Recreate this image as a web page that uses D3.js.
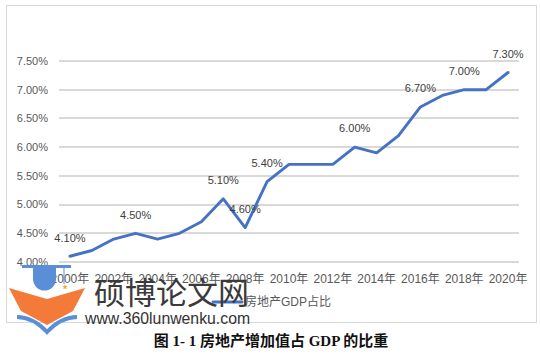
<!DOCTYPE html>
<html><head><meta charset="utf-8">
<script src="https://cdn.jsdelivr.net/npm/d3@7"></script>
<style>
html,body{margin:0;padding:0;background:#fff;}
svg{display:block;}
</style></head>
<body>
<svg id="c" width="540" height="356"></svg>
<script>
const years = d3.range(2000, 2021).map(String);
const share = [4.1, 4.2, 4.4, 4.5, 4.4, 4.5, 4.7, 5.1, 4.6, 5.4, 5.7, 5.7, 5.7, 6.0, 5.9, 6.2, 6.7, 6.9, 7.0, 7.0, 7.3];
const labelledYears = ["2000","2003","2007","2008","2009","2013","2016","2018","2020"];
const yTicks = [4.0, 4.5, 5.0, 5.5, 6.0, 6.5, 7.0, 7.5];
const xTickYears = ["2000","2002","2004","2006","2008","2010","2012","2014","2016","2018","2020"];
const seriesName = "房地产GDP占比";
const caption = "图 1- 1 房地产增加值占 GDP 的比重";
const wmTitle = "硕博论文网";
const wmUrl = "www.360lunwenku.com";

const svg = d3.select("#c");
const FONT = "'Liberation Sans','Noto Sans CJK SC',sans-serif";
const GRAY = "#595959";

// chart box
svg.append("rect").attr("x",6.5).attr("y",5.5).attr("width",530).attr("height",317)
  .attr("fill","#fff").attr("stroke","#d9d9d9").attr("stroke-width",1);

const x = d3.scaleBand().domain(years).range([59,519]).paddingInner(0).paddingOuter(0);
const cx = d => x(d) + x.bandwidth()/2;
const y = d3.scaleLinear().domain([4.0,7.5]).range([262,61]);

// gridlines
svg.append("g").selectAll("line").data(yTicks).join("line")
  .attr("x1",59).attr("x2",519)
  .attr("y1",d=>Math.round(y(d))).attr("y2",d=>Math.round(y(d)))
  .attr("stroke","#d9d9d9").attr("stroke-width",2);

// y labels
svg.append("g").selectAll("text").data(yTicks).join("text")
  .attr("x",48).attr("y",d=>y(d)).attr("dy","0.35em")
  .attr("text-anchor","end").attr("font-family",FONT).attr("font-size",11)
  .attr("fill",GRAY).text(d=>d.toFixed(2)+"%");

// x labels
svg.append("g").selectAll("text").data(xTickYears).join("text")
  .attr("x",d=>cx(d)).attr("y",279).attr("dy","0.35em")
  .attr("text-anchor","middle").attr("font-family",FONT).attr("font-size",12)
  .attr("fill",GRAY).text(d=>d+"年");

// line
const data = years.map((yr,i)=>({yr, v:share[i]}));
svg.append("path").datum(data)
  .attr("fill","none").attr("stroke","#4472c4").attr("stroke-width",2.9)
  .attr("stroke-linejoin","round").attr("stroke-linecap","round")
  .attr("d", d3.line().x(d=>cx(d.yr)).y(d=>y(d.v)));

// data labels
svg.append("g").selectAll("text").data(data.filter(d=>labelledYears.includes(d.yr))).join("text")
  .attr("x",d=>cx(d.yr)).attr("y",d=>y(d.v)-18.5).attr("dy","0.35em")
  .attr("text-anchor","middle").attr("font-family",FONT).attr("font-size",11)
  .attr("fill","#404040").text(d=>d.v.toFixed(2)+"%");

// legend
svg.append("line").attr("x1",213).attr("x2",242).attr("y1",302).attr("y2",302)
  .attr("stroke","#4472c4").attr("stroke-width",2.9).attr("stroke-linecap","round");
svg.append("text").attr("x",245).attr("y",302).attr("dy","0.35em")
  .attr("font-family",FONT).attr("font-size",12).attr("fill",GRAY).text(seriesName);

// watermark logo
const wm = svg.append("g");
wm.append("path").attr("d","M9,288 L47,299 L85,288 L73,311 L47,325 L21,311 Z").attr("fill","#f47a3a");
wm.append("path").attr("d","M17,317 Q33,317 47,332 Q61,317 77,317").attr("fill","none")
  .attr("stroke","#5a8fd8").attr("stroke-width",4);
wm.append("rect").attr("x",22).attr("y",265).attr("width",49).attr("height",3).attr("fill","#5a8fd8");
wm.append("path").attr("d","M33,268 L33,279 A11.5,11.5 0 0 0 56,279 L56,268 Z").attr("fill","#5a8fd8");
wm.append("line").attr("x1",64).attr("x2",64).attr("y1",268).attr("y2",284).attr("stroke","#5a8fd8").attr("stroke-width",1);
wm.append("path").attr("d",d3.symbol(d3.symbolStar,10)()).attr("transform","translate(65,287)").attr("fill","#f2a93b");
wm.append("text").attr("x",94).attr("y",293).attr("dy","0.36em")
  .attr("font-family","'Noto Sans CJK SC',sans-serif").attr("font-size",31).attr("fill","#3a3a3a").text(wmTitle);
wm.append("text").attr("x",85).attr("y",318).attr("dy","0.35em")
  .attr("font-family","'Liberation Sans',sans-serif").attr("font-size",15.8).attr("fill","#333").text(wmUrl);

// caption
svg.append("text").attr("x",271).attr("y",341).attr("dy","0.36em").attr("text-anchor","middle")
  .attr("font-family","'Liberation Serif','Noto Sans CJK SC',serif").attr("font-weight","bold")
  .attr("font-size",15).attr("fill","#111").text(caption);
</script>
</body></html>
